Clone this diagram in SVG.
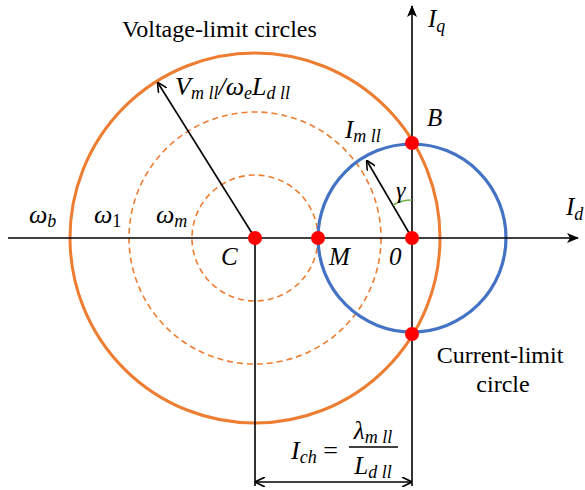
<svg xmlns="http://www.w3.org/2000/svg" width="585" height="490" viewBox="0 0 585 490">
<style>
.ax{stroke:#000;stroke-width:1.6;fill:none}
.vl{stroke:#ED7D31;stroke-width:3;fill:none}
.vd{stroke:#ED7D31;stroke-width:1.6;fill:none;stroke-dasharray:6 4}
.cl{stroke:#4472C4;stroke-width:3.2;fill:none}
.dot{fill:#FF0000}
.t{font-family:"Liberation Serif","Times New Roman",serif;fill:#000}
.m{font-family:"Liberation Serif","Times New Roman",serif;font-style:italic;fill:#000}
.s{font-size:18px}
</style>
<defs>
<marker id="ah" viewBox="0 0 10 10" refX="9" refY="5" markerWidth="10" markerHeight="10" markerUnits="userSpaceOnUse" orient="auto-start-reverse">
<path d="M0,0 L10,5 L0,10" fill="none" stroke="#000" stroke-width="1.6"/>
</marker>
<marker id="af" viewBox="0 0 12 10" refX="11" refY="5" markerWidth="12" markerHeight="10" markerUnits="userSpaceOnUse" orient="auto">
<path d="M0,0 L12,5 L0,10 L3,5 z" fill="#000"/>
</marker>
</defs>
<g id="circles">
<circle class="vl" cx="255" cy="238" r="185"/>
<circle class="vd" cx="255" cy="238" r="126"/>
<circle class="vd" cx="255" cy="238" r="63"/>
<circle class="cl" cx="412" cy="238" r="94"/>
</g>
<g id="connectors">
<line class="ax" x1="8" y1="238" x2="578" y2="238" marker-end="url(#af)"/>
<line class="ax" x1="412" y1="486" x2="412" y2="6" marker-end="url(#af)"/>
<line class="ax" x1="255" y1="238" x2="255" y2="486"/>
<line class="ax" x1="256" y1="482" x2="411" y2="482" marker-start="url(#ah)" marker-end="url(#ah)"/>
<line class="ax" x1="255" y1="238" x2="158" y2="83" marker-end="url(#ah)"/>
<line class="ax" x1="412" y1="238" x2="367" y2="161" marker-end="url(#ah)"/>
<path d="M393,205 A38,38 0 0 1 412,200" fill="none" stroke="#70AD47" stroke-width="1.6"/>
</g>
<g id="points">
<circle class="dot" cx="255" cy="238" r="7"/>
<circle class="dot" cx="318" cy="238" r="7"/>
<circle class="dot" cx="412" cy="238" r="7"/>
<circle class="dot" cx="412" cy="143" r="7"/>
<circle class="dot" cx="412" cy="334" r="7"/>
</g>
<g id="labels">
<text class="t" x="122" y="37" font-size="24">Voltage-limit circles</text>
<text class="m" x="175" y="95" font-size="26">V<tspan class="s" dy="4">m  ll</tspan><tspan dy="-4">/ω</tspan><tspan class="s" dy="4">e</tspan><tspan dy="-4">L</tspan><tspan class="s" dy="4">d  ll</tspan></text>
<text class="m" x="428" y="27" font-size="25">I<tspan class="s" dy="5">q</tspan></text>
<text class="m" x="427" y="126" font-size="25">B</text>
<text class="m" x="345" y="138" font-size="25">I<tspan class="s" dy="4">m  ll</tspan></text>
<text class="m" x="396" y="198" font-size="24">γ</text>
<text class="m" x="566" y="215" font-size="25">I<tspan class="s" dy="5">d</tspan></text>
<text class="m" x="29" y="223" font-size="26">ω<tspan class="s" dy="4">b</tspan></text>
<text class="m" x="94" y="223" font-size="26">ω<tspan class="s" dy="4" font-style="normal">1</tspan></text>
<text class="m" x="156" y="223" font-size="26">ω<tspan class="s" dy="4">m</tspan></text>
<text class="m" x="221" y="265" font-size="25">C</text>
<text class="m" x="329" y="265" font-size="25">M</text>
<text class="m" x="389" y="265" font-size="25">0</text>
<text class="t" x="500" y="363" font-size="24" text-anchor="middle">Current-limit</text>
<text class="t" x="503" y="392" font-size="24" text-anchor="middle">circle</text>
<text class="m" x="291" y="459" font-size="26">I<tspan class="s" dy="4">ch</tspan><tspan dy="-4" font-style="normal"> =</tspan></text>
<line x1="349" y1="447" x2="398" y2="447" stroke="#000" stroke-width="1.3"/>
<text class="m" x="373" y="439" font-size="25" text-anchor="middle">λ<tspan class="s" dy="4">m  ll</tspan></text>
<text class="m" x="373" y="474" font-size="25" text-anchor="middle">L<tspan class="s" dy="4">d  ll</tspan></text>
</g>
</svg>
